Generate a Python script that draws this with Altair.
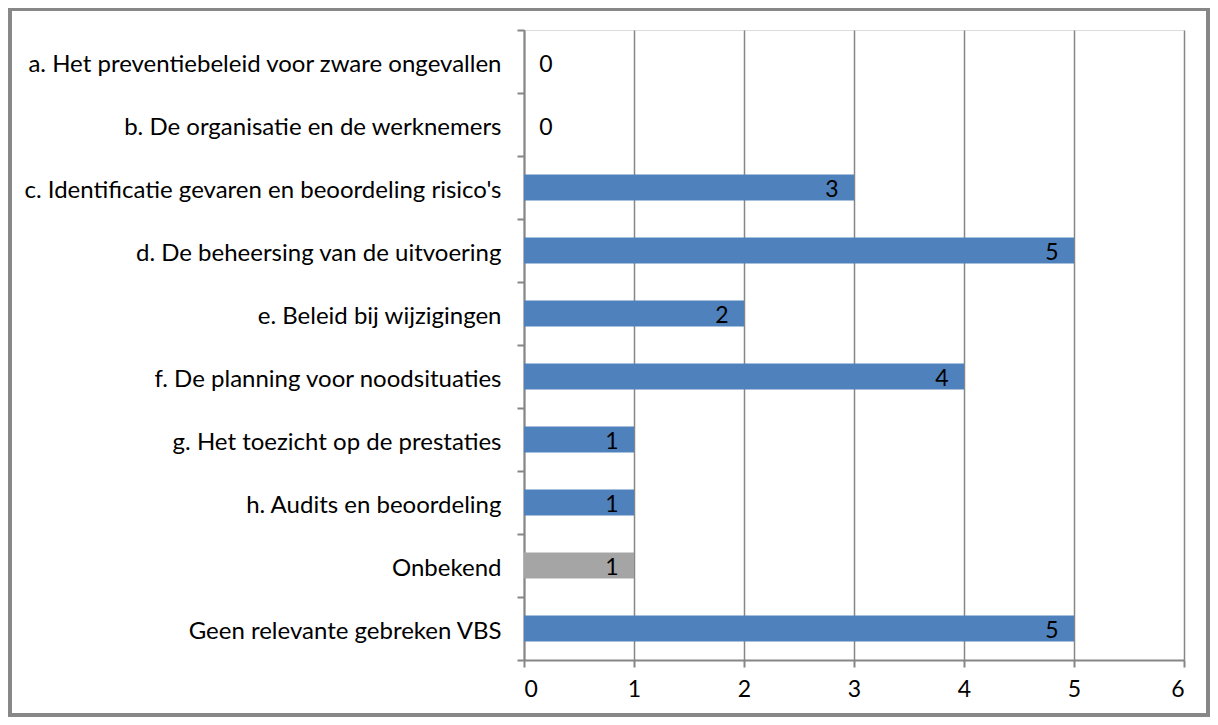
import altair as alt
import pandas as pd

categories = [
    "a. Het preventiebeleid voor zware ongevallen",
    "b. De organisatie en de werknemers",
    "c. Identificatie gevaren en beoordeling risico's",
    "d. De beheersing van de uitvoering",
    "e. Beleid bij wijzigingen",
    "f. De planning voor noodsituaties",
    "g. Het toezicht op de prestaties",
    "h. Audits en beoordeling",
    "Onbekend",
    "Geen relevante gebreken VBS",
]
values = [0, 0, 3, 5, 2, 4, 1, 1, 1, 5]
groups = ["main"] * 8 + ["unknown"] + ["main"]

df = pd.DataFrame({"cat": categories, "value": values, "group": groups})

FONT = "Lato"
GRID = "#868686"

y_enc = alt.Y("cat:N", sort=None, title=None,
              scale=alt.Scale(paddingInner=0, paddingOuter=0),
              axis=alt.Axis(tickBand="extent", tickSize=7, tickColor=GRID, tickWidth=2,
                            domainColor=GRID, domainWidth=2, labelFont=FONT, labelFontSize=24,
                            labelColor="black", labelPadding=16, labelLimit=520, labelOffset=3,
                            grid=False))
x_enc = alt.X("value:Q", title=None,
              scale=alt.Scale(domain=[0, 6], nice=False),
              axis=alt.Axis(values=[0, 1, 2, 3, 4, 5, 6], format="d", tickSize=7, tickColor=GRID,
                            tickWidth=2, domainColor=GRID, domainWidth=2, gridColor=GRID,
                            gridWidth=1.5, labelFont=FONT, labelFontSize=23, labelColor="black",
                            labelPadding=11))

bars = alt.Chart(df).mark_bar(size=26).encode(
    x=x_enc, y=y_enc,
    color=alt.Color("group:N", scale=alt.Scale(domain=["main", "unknown"],
                                               range=["#4F81BD", "#A5A5A5"]), legend=None),
)

labels_pos = alt.Chart(df).transform_filter("datum.value > 0").mark_text(
    dx=-22, dy=2, align="center", baseline="middle", font=FONT, fontSize=23, color="black"
).encode(x="value:Q", y=alt.Y("cat:N", sort=None), text="value:Q")

labels_zero = alt.Chart(df).transform_filter("datum.value == 0").mark_text(
    dx=22, dy=3, align="center", baseline="middle", font=FONT, fontSize=23, color="black"
).encode(x="value:Q", y=alt.Y("cat:N", sort=None), text="value:Q")

border = alt.Chart(df).mark_rect(fill=None, stroke="#878787", strokeWidth=3).encode(
    x=alt.value(-514), x2=alt.value(684), y=alt.value(-21), y2=alt.value(685)
)

chart = alt.layer(bars, labels_pos, labels_zero, border).properties(
    width=660, height=630,
    autosize=alt.AutoSizeParams(type="none"),
    padding={"left": 516, "top": 22, "right": 26, "bottom": 57},
).configure_view(stroke=None).configure(background="white")

chart.save("out.html", embed_options={"renderer": "svg", "actions": False})
